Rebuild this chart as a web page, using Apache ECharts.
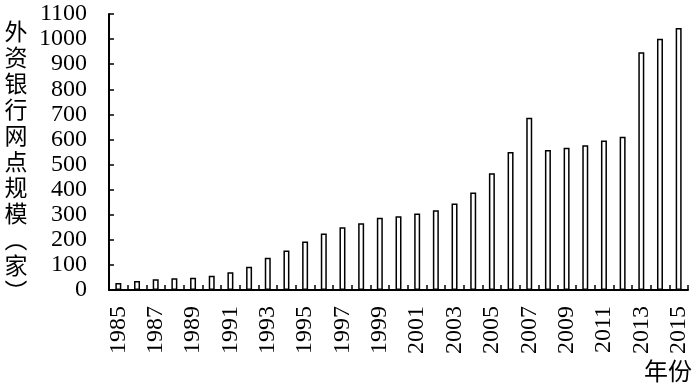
<!DOCTYPE html>
<html>
<head>
<meta charset="utf-8">
<script src="https://cdn.jsdelivr.net/npm/echarts@6/dist/echarts.min.js"></script>
<style>
html,body{margin:0;padding:0;background:#fff;}
#c{width:700px;height:385px;}
</style>
</head>
<body>
<div id="c"></div>
<script>
var years = ['1985','1986','1987','1988','1989','1990','1991','1992','1993','1994','1995','1996','1997','1998','1999','2000','2001','2002','2003','2004','2005','2006','2007','2008','2009','2010','2011','2012','2013','2014','2015'];
var outlets = [28,36,43,47,49,57,71,93,129,157,193,225,250,266,288,294,305,318,345,389,465,550,687,558,567,577,596,611,948,1001,1044];
var yAxisTitle = ['外','资','银','行','网','点','规','模','︵','家','︶'];
var xAxisTitle = '年份';

var serif = "Liberation Serif";
var cjk = "'Noto Sans CJK SC','Noto Sans',sans-serif";

var chart = echarts.init(document.getElementById('c'));
chart.setOption({
  animation: false,
  backgroundColor: '#fff',
  grid: {left: 109, right: 12, top: 14, bottom: 95, containLabel: false},
  xAxis: {
    type: 'category',
    data: years,
    boundaryGap: true,
    axisLine: {lineStyle: {color: '#000', width: 2}},
    axisTick: {show: true, inside: true, length: 5, interval: 0, lineStyle: {color: '#000', width: 1.5}},
    axisLabel: {interval: 1, rotate: 90, margin: 16, color: '#000', fontFamily: serif, fontSize: 24}
  },
  yAxis: {
    type: 'value',
    min: 0, max: 1100, interval: 100,
    splitLine: {show: false},
    axisLine: {show: true, lineStyle: {color: '#000', width: 2}},
    axisTick: {show: true, inside: true, length: 5, lineStyle: {color: '#000', width: 1.5}},
    axisLabel: {margin: 22, color: '#000', fontFamily: serif, fontSize: 24, formatter: function (v) { return String(v); }}
  },
  series: [{
    type: 'bar',
    data: outlets,
    barWidth: 6,
    itemStyle: {color: '#fff', borderColor: '#000', borderWidth: 1.5}
  }],
  graphic: [
    {
      type: 'text', x: 16, y: 18,
      style: {text: yAxisTitle.join('\n'), font: "23px " + cjk, lineHeight: 26, fill: '#000', textAlign: 'center', textVerticalAlign: 'top'}
    },
    {
      type: 'text', x: 692, y: 371,
      style: {text: xAxisTitle, font: "24px " + cjk, fill: '#000', textAlign: 'right', textVerticalAlign: 'middle'}
    }
  ]
});
</script>
</body>
</html>
